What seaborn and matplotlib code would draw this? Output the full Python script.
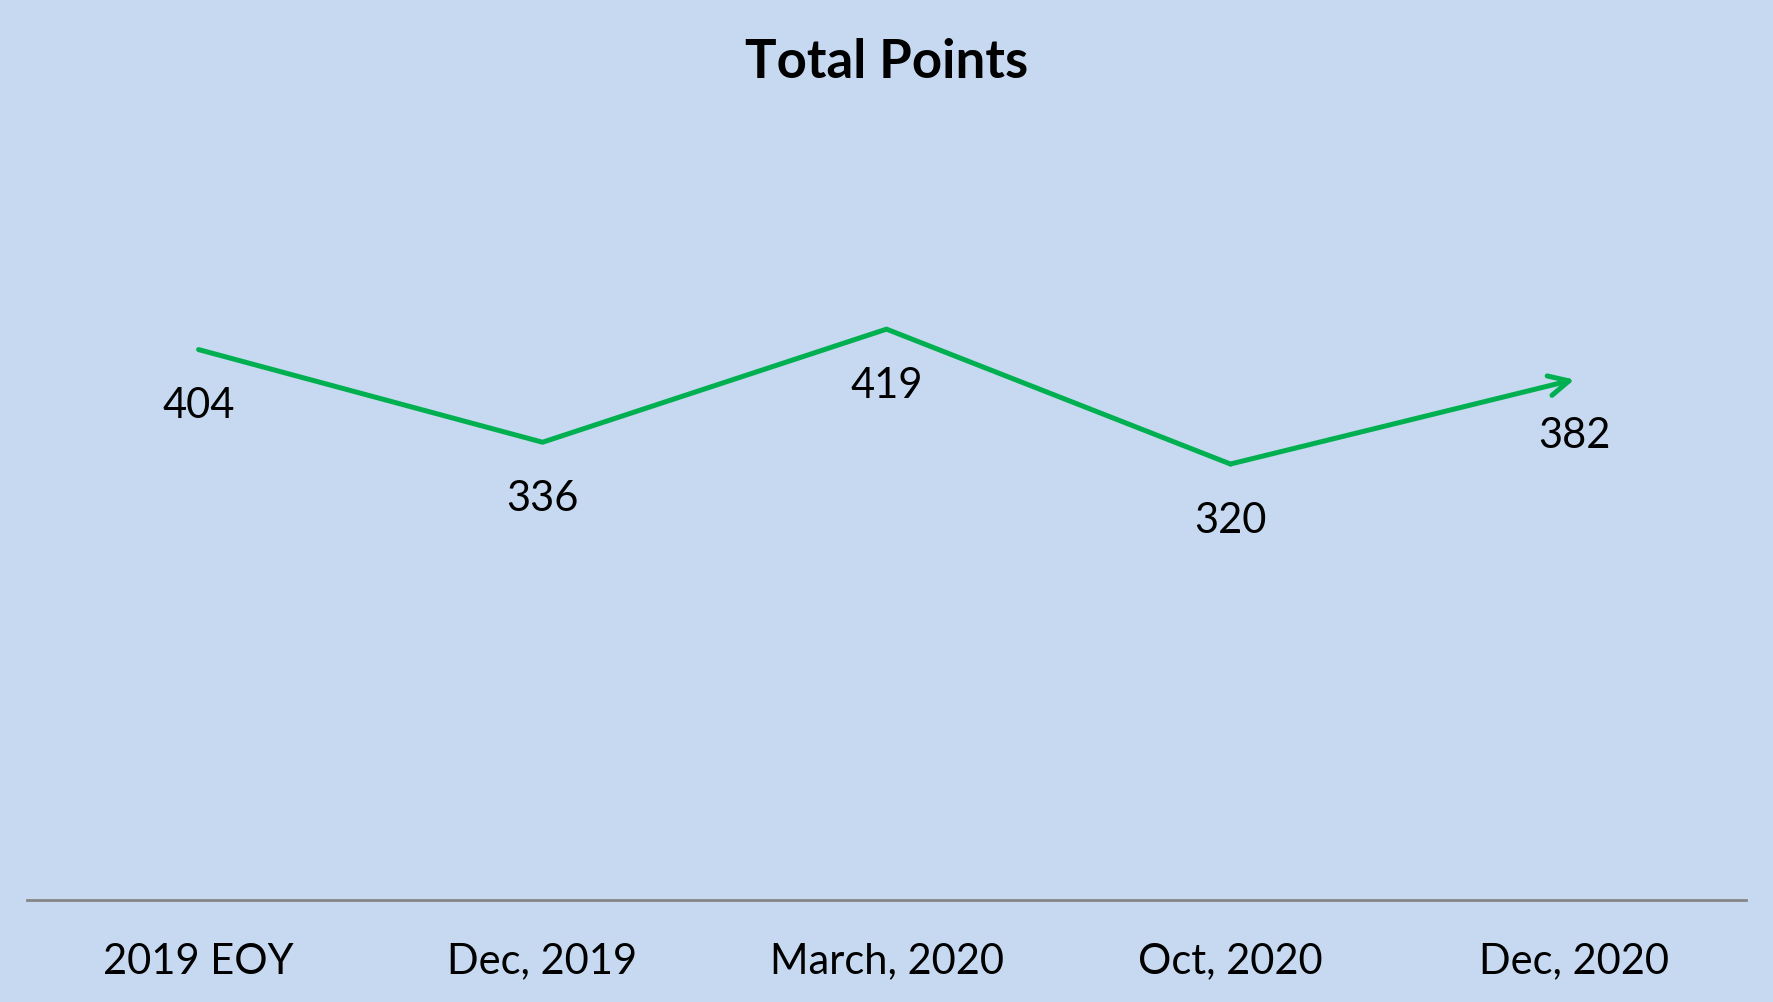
import matplotlib
matplotlib.use("Agg")
import matplotlib.pyplot as plt
import seaborn as sns
import pandas as pd

# data
periods = ["2019 EOY", "Dec, 2019", "March, 2020", "Oct, 2020", "Dec, 2020"]
points = [404, 336, 419, 320, 382]

bg = "#C6D9F1"
green = "#00B050"

sns.set_theme(style="white")
plt.rcParams['font.family'] = ['Lato', 'DejaVu Sans']

df = pd.DataFrame({"period": periods, "points": points})
df["pos"] = range(len(df))

fig = plt.figure(figsize=(17.73, 10.03), dpi=100)
fig.patch.set_facecolor(bg)
ax = fig.add_axes([0.015, 0.1017, 0.97, 0.815])
ax.set_facecolor(bg)

sns.lineplot(data=df.iloc[:-1], x="pos", y="points", color=green, lw=3.6, ax=ax)
# last segment with an open arrow head
ax.annotate("", xy=(df.pos.iloc[-1], df.points.iloc[-1]),
            xytext=(df.pos.iloc[-2], df.points.iloc[-2]),
            arrowprops=dict(arrowstyle="->", color=green, lw=3.6,
                            mutation_scale=36, shrinkA=0, shrinkB=0))

for x, y in zip(df.pos, df.points):
    ax.annotate(str(y), (x, y), xytext=(0, -40), textcoords="offset points",
                ha="center", va="center", fontsize=30, color="black")

ax.set_xlim(-0.5, len(periods) - 0.5)
ax.set_ylim(0, 600)
ax.set_xticks(df.pos)
ax.set_xticklabels(periods, fontsize=30, color="black")
ax.set_yticks([])
ax.tick_params(axis="x", length=0, pad=30)
ax.set_xlabel("")
ax.set_ylabel("")
for s in ["top", "right", "left"]:
    ax.spines[s].set_visible(False)
ax.spines["bottom"].set_color("#868686")
ax.spines["bottom"].set_linewidth(2)

fig.suptitle("Total Points", fontsize=38, fontweight="bold", color="black", y=0.962)

fig.savefig("out.png", dpi=100, facecolor=bg)
